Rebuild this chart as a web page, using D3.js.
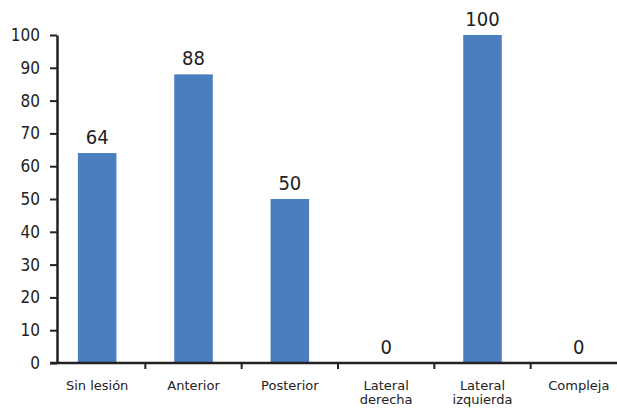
<!doctype html>
<html lang="es">
<head>
    <meta charset="UTF-8">
    <script src="https://cdnjs.cloudflare.com/ajax/libs/d3/7.8.5/d3.min.js"></script>
    <title>Lesiones</title>
    <style>
        body { margin: 0; background: #fff; }
        text { font-family: "DejaVu Sans Condensed", "DejaVu Sans", sans-serif; fill: #222; }
    </style>
</head>
<body>
<div id="Area"></div>
<script>
    // data
    const categories = ["Sin lesión", "Anterior", "Posterior", "Lateral derecha", "Lateral izquierda", "Compleja"];
    const labelLines = [["Sin lesión"], ["Anterior"], ["Posterior"], ["Lateral", "derecha"], ["Lateral", "izquierda"], ["Compleja"]];
    const values = [64, 88, 50, 0, 100, 0];
    const yTicks = [0, 10, 20, 30, 40, 50, 60, 70, 80, 90, 100];

    const W = 617, H = 408;
    const axisX = 57, baseY = 363, topY = 35;

    const svg = d3.select("#Area")
        .append("svg")
        .attr("width", W)
        .attr("height", H);

    const x = d3.scaleBand()
        .domain(categories)
        .range([49, 627])
        .paddingInner(0.6)
        .paddingOuter(0.3);

    const y = d3.scaleLinear()
        .domain([0, 100])
        .range([baseY, topY]);

    // bars
    svg.selectAll("rect.bar")
        .data(values)
        .join("rect")
        .attr("class", "bar")
        .attr("x", (d, i) => x(categories[i]))
        .attr("width", x.bandwidth())
        .attr("y", d => y(d))
        .attr("height", d => y(0) - y(d))
        .attr("fill", "#4a7ebf");

    // value labels
    svg.selectAll("text.val")
        .data(values)
        .join("text")
        .attr("class", "val")
        .attr("x", (d, i) => x(categories[i]) + x.bandwidth() / 2)
        .attr("y", d => y(d) - 9)
        .attr("text-anchor", "middle")
        .style("font-size", "20px")
        .text(d => d);

    // y axis
    const yAxis = svg.append("g")
        .attr("transform", "translate(" + axisX + ",0)")
        .call(d3.axisLeft(y).tickValues(yTicks).tickSize(7).tickPadding(10).tickSizeOuter(0));
    yAxis.select(".domain").attr("stroke", "#222").attr("stroke-width", 2.5);
    yAxis.selectAll(".tick line").attr("stroke", "#222").attr("stroke-width", 2);
    yAxis.selectAll(".tick text").style("font-size", "17px").attr("fill", "#222");

    // x axis: line plus ticks between categories
    const step = x.step();
    const sep = categories.slice(1).map(c => x(c) - (step - x.bandwidth()) / 2);
    svg.append("line")
        .attr("x1", 50).attr("x2", W)
        .attr("y1", baseY).attr("y2", baseY)
        .attr("stroke", "#222").attr("stroke-width", 2.5);
    svg.selectAll("line.xt")
        .data(sep)
        .join("line")
        .attr("class", "xt")
        .attr("x1", d => d).attr("x2", d => d)
        .attr("y1", baseY).attr("y2", baseY + 6)
        .attr("stroke", "#222").attr("stroke-width", 2);

    const xl = svg.selectAll("text.xl")
        .data(labelLines)
        .join("text")
        .attr("class", "xl")
        .attr("x", (d, i) => x(categories[i]) + x.bandwidth() / 2)
        .attr("y", 390)
        .attr("text-anchor", "middle")
        .style("font-family", "'DejaVu Sans', sans-serif")
        .style("font-size", "13px");
    xl.selectAll("tspan")
        .data(d => d)
        .join("tspan")
        .attr("x", function () { return this.parentNode.getAttribute("x"); })
        .attr("dy", (d, i) => i === 0 ? 0 : 14)
        .text(d => d);
</script>
</body>
</html>
